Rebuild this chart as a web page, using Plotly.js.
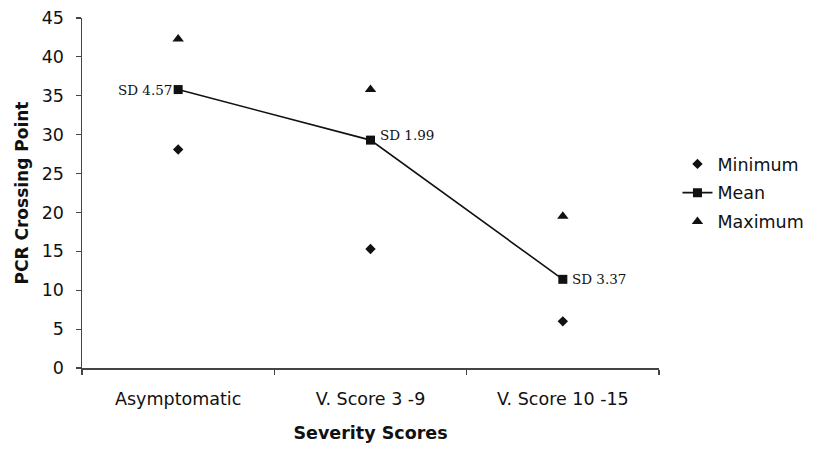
<!DOCTYPE html>
<html>
<head>
<meta charset="utf-8">
<script src="https://cdn.plot.ly/plotly-3.0.1.min.js"></script>
<style>html,body{margin:0;padding:0;background:#fff;}#chart{width:817px;height:451px;}</style>
</head>
<body>
<div id="chart"></div>
<script>
const categories = ["Asymptomatic", "V. Score 3 -9", "V. Score 10 -15"];
const minimumValues = [28.1, 15.3, 6.0];
const meanValues = [35.8, 29.3, 11.4];
const maximumValues = [42.3, 35.8, 19.5];
const sdValues = ["4.57", "1.99", "3.37"];
const yTickValues = [0, 5, 10, 15, 20, 25, 30, 35, 40, 45];

const sans = "DejaVu Sans, Arial, sans-serif";
const ink = "#111";

const traces = [
  {
    type: "scatter", mode: "markers", name: "Minimum", legendgroup: "a",
    x: categories, y: minimumValues,
    marker: {symbol: "diamond", size: 8, color: "#111"}
  },
  {
    type: "scatter", mode: "lines+markers", name: "Mean", legendgroup: "b",
    x: categories, y: meanValues,
    line: {color: "#111", width: 1.6},
    marker: {symbol: "square", size: 9, color: "#111"}
  },
  {
    type: "scatter", mode: "markers", name: "Maximum", legendgroup: "c",
    x: categories, y: maximumValues,
    marker: {symbol: "triangle-up", size: 10, color: "#111"}
  }
];

const annotations = sdValues.map((sd, i) => ({
  x: categories[i], y: meanValues[i], xref: "x", yref: "y",
  text: "SD " + sd, showarrow: false,
  xanchor: i === 0 ? "right" : "left",
  xshift: i === 0 ? -4 : 7,
  yshift: i === 1 ? 5 : 0,
  font: {family: "DejaVu Serif, Liberation Serif, serif", size: 13.5, color: ink}
}));

const layout = {
  width: 817, height: 451,
  margin: {l: 82, r: 158, t: 17.5, b: 83.3, autoexpand: false},
  paper_bgcolor: "#fff", plot_bgcolor: "#fff",
  showlegend: true,
  legend: {
    x: 1.032, xanchor: "left", y: 0.5, yanchor: "middle",
    traceorder: "grouped", tracegroupgap: 3,
    font: {family: sans, size: 17.5, color: ink},
    bgcolor: "rgba(0,0,0,0)"
  },
  xaxis: {
    type: "category", range: [-0.5, 2.5], automargin: false,
    showline: true, linecolor: "#444", linewidth: 1.5,
    showgrid: false, zeroline: false,
    ticks: "outside", tickson: "boundaries", ticklen: 5, tickcolor: "#444", tickwidth: 1.2,
    ticklabelstandoff: 14,
    tickfont: {family: sans, size: 17.5, color: ink},
    title: {text: "<b>Severity Scores</b>", font: {family: sans, size: 17.5, color: ink}, standoff: 19}
  },
  yaxis: {
    range: [0, 45], tickvals: yTickValues, automargin: false,
    showline: true, linecolor: "#444", linewidth: 1.5,
    showgrid: false, zeroline: false,
    ticks: "outside", ticklen: 5, tickcolor: "#444", tickwidth: 1.2,
    ticklabelstandoff: 8,
    tickfont: {family: sans, size: 17.5, color: ink},
    title: {text: "<b>PCR Crossing Point</b>", font: {family: sans, size: 17, color: ink}, standoff: 9}
  },
  annotations: annotations
};

Plotly.newPlot("chart", traces, layout, {displayModeBar: false, staticPlot: true});
</script>
</body>
</html>
